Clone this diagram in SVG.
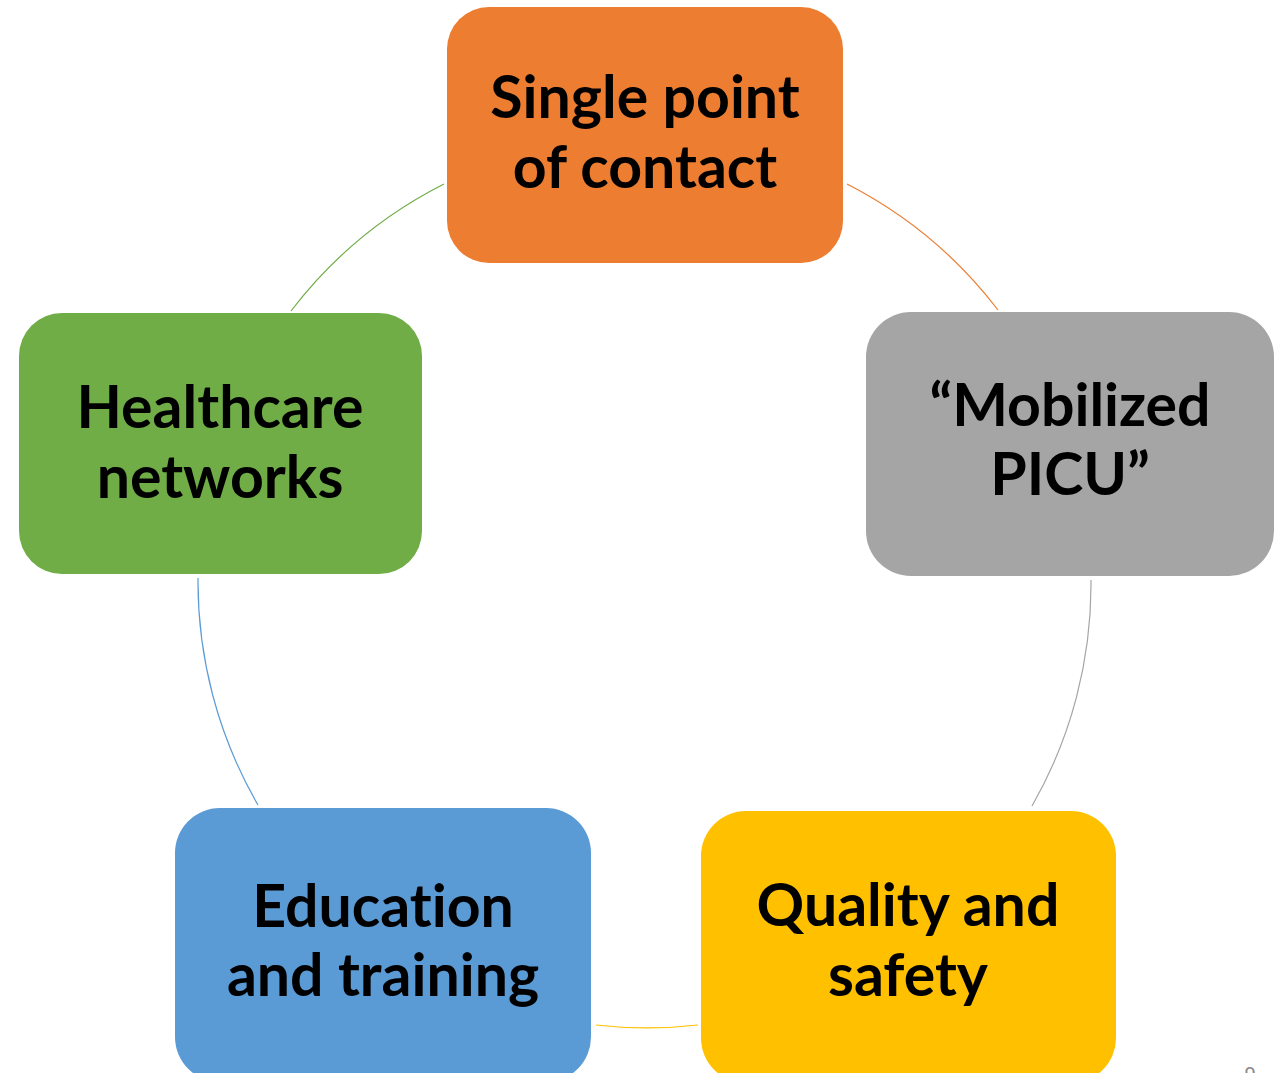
<svg xmlns="http://www.w3.org/2000/svg" width="1281" height="1073" viewBox="0 0 1281 1073">
<style>
.lbl{font-family:Lato,"Liberation Sans",sans-serif;font-weight:bold;font-size:59px;fill:#000;text-anchor:middle;font-variant-ligatures:none}
.arc{fill:none;stroke-width:1.2}
</style>
<rect width="1281" height="1073" fill="#fff"/>
<g id="connectors">
<path class="arc" stroke="#70AD47" d="M291,311 A446,446 0 0 1 444,184"/>
<path class="arc" stroke="#ED7D31" d="M847,184 A446,446 0 0 1 998,310"/>
<path class="arc" stroke="#A5A5A5" d="M1091,580 A446,446 0 0 1 1032,806"/>
<path class="arc" stroke="#FFC000" d="M698,1025 A446,446 0 0 1 596,1025"/>
<path class="arc" stroke="#5B9BD5" d="M258,805 A446,446 0 0 1 198,578"/>
</g>
<g id="node-single-point">
<rect x="447" y="7" width="396" height="256" rx="42" fill="#ED7D31"/>
<text class="lbl" x="645" y="118">Single point</text>
<text class="lbl" x="645" y="188">of contact</text>
</g>
<g id="node-mobilized-picu">
<rect x="866" y="312" width="408" height="264" rx="45" fill="#A5A5A5"/>
<text class="lbl" x="1070" y="426">“Mobilized</text>
<text class="lbl" x="1070" y="495">PICU”</text>
</g>
<g id="node-quality-safety">
<rect x="701" y="811" width="415" height="272" rx="45" fill="#FFC000"/>
<text class="lbl" x="908" y="926">Quality and</text>
<text class="lbl" x="908" y="996">safety</text>
</g>
<g id="node-education-training">
<rect x="175" y="808" width="416" height="274" rx="45" fill="#5B9BD5"/>
<text class="lbl" x="383" y="927">Education</text>
<text class="lbl" x="383" y="996">and training</text>
</g>
<g id="node-healthcare-networks">
<rect x="19" y="313" width="403" height="261" rx="43" fill="#70AD47"/>
<text class="lbl" x="220" y="428">Healthcare</text>
<text class="lbl" x="220" y="498">networks</text>
</g>
<text x="1250" y="1081" font-family="'Liberation Sans',sans-serif" font-size="20" fill="#888" text-anchor="middle">9</text>
</svg>
